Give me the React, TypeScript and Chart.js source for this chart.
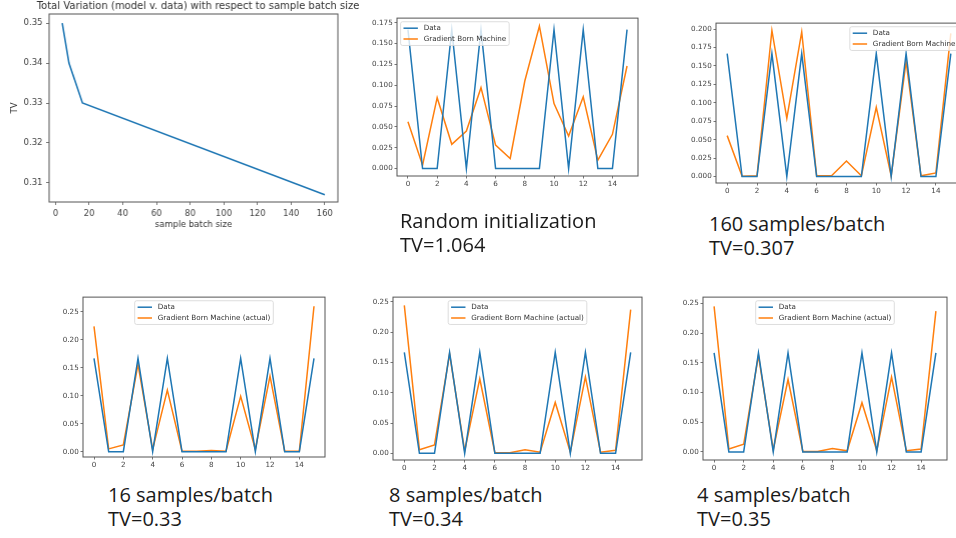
import React, { useEffect, useRef } from 'react';
import { Chart, registerables } from 'chart.js';

Chart.register(...registerables);

// ---------- data ----------
const batchSizes = [4, 8, 16, 160];
const tvByBatch = [0.35, 0.34, 0.33, 0.307];
const batchXTicks = [0, 20, 40, 60, 80, 100, 120, 140, 160];
const tvYTicks = [0.31, 0.32, 0.33, 0.34, 0.35];

const states = [0, 1, 2, 3, 4, 5, 6, 7, 8, 9, 10, 11, 12, 13, 14, 15];
const stateTicks = [0, 2, 4, 6, 8, 10, 12, 14];
const dataDist = [0.1667, 0, 0, 0.1667, 0, 0.1667, 0, 0, 0, 0, 0.1667, 0, 0.1667, 0, 0, 0.1667];
const gbmRandom = [0.056, 0.004, 0.085, 0.029, 0.045, 0.097, 0.028, 0.012, 0.105, 0.171, 0.078, 0.039, 0.086, 0.01, 0.041, 0.123];
const gbm160 = [0.0555, 0.0005, 0.001, 0.198, 0.079, 0.196, 0.001, 0.001, 0.021, 0.001, 0.094, 0.001, 0.156, 0.001, 0.005, 0.194];
const gbm16 = [0.224, 0.005, 0.012, 0.156, 0.004, 0.11, 0.001, 0.001, 0.002, 0.001, 0.099, 0.004, 0.135, 0.001, 0.001, 0.26];
const gbm8 = [0.244, 0.006, 0.014, 0.164, 0.004, 0.123, 0.001, 0.001, 0.006, 0.002, 0.084, 0.002, 0.126, 0.002, 0.005, 0.237];
const gbm4 = [0.245, 0.005, 0.013, 0.162, 0.004, 0.122, 0.001, 0.001, 0.006, 0.002, 0.083, 0.002, 0.126, 0.002, 0.005, 0.237];
const yTicksRandom = [0, 0.025, 0.05, 0.075, 0.1, 0.125, 0.15, 0.175];
const yTicks160 = [0, 0.025, 0.05, 0.075, 0.1, 0.125, 0.15, 0.175, 0.2];
const yTicksBatch = [0, 0.05, 0.1, 0.15, 0.2, 0.25];

const BLUE = '#1f77b4';
const ORANGE = '#ff7f0e';
const FONT = '"DejaVu Sans", sans-serif';
const AXIS_COLOR = '#444';

const mplPlugin = {
  id: 'mpl',
  afterDatasetsDraw(chart: any, _args: any, opts: any) {
    const { ctx, chartArea: ca } = chart;
    ctx.save();
    ctx.strokeStyle = '#555';
    ctx.lineWidth = 1;
    ctx.strokeRect(ca.left, ca.top, ca.right - ca.left, ca.bottom - ca.top);
    if (opts.legend) {
      const f = opts.fontSize;
      ctx.font = `${f}px ${FONT}`;
      const items = chart.data.datasets.map((d: any) => ({ label: d.label, color: d.borderColor }));
      const textW = Math.max(...items.map((i: any) => ctx.measureText(i.label).width));
      const pad = 0.4 * f, handle = 2 * f, gap = 0.8 * f, rowH = f, spacing = 0.5 * f;
      const w = pad * 2 + handle + gap + textW;
      const h = pad * 2 + items.length * rowH + (items.length - 1) * spacing;
      const axPad = 0.5 * f;
      const loc = opts.legend;
      const x = loc === 'upper left' ? ca.left + axPad : loc === 'upper right' ? ca.right - axPad - w : (ca.left + ca.right) / 2 - w / 2;
      const y = ca.top + axPad;
      ctx.beginPath();
      (ctx as any).roundRect(x, y, w, h, 2);
      ctx.fillStyle = 'rgba(255,255,255,0.8)';
      ctx.fill();
      ctx.strokeStyle = '#d4d4d4';
      ctx.lineWidth = 0.8;
      ctx.stroke();
      items.forEach((it: any, i: number) => {
        const cy = y + pad + rowH / 2 + i * (rowH + spacing);
        ctx.beginPath();
        ctx.strokeStyle = it.color;
        ctx.lineWidth = opts.lineWidth || 1.2;
        ctx.moveTo(x + pad, cy);
        ctx.lineTo(x + pad + handle, cy);
        ctx.stroke();
        ctx.fillStyle = '#333';
        ctx.textBaseline = 'middle';
        ctx.textAlign = 'left';
        ctx.fillText(it.label, x + pad + handle + gap, cy);
      });
    }
    ctx.restore();
  },
};

type Props = {
  plot: { l: number; t: number; r: number; b: number };
  m: { left: number; top: number; right: number; bottom: number };
  xs: number[];
  series: { label: string; data: number[]; color: string }[];
  xMin: number; xMax: number; yMin: number; yMax: number;
  xTicks: number[]; yTicks: number[]; yDec: number;
  tickFont: number; lineWidth: number; tickLen: number; tickPad: number;
  legend?: string; legendFont?: number;
  title?: string; titleFont?: number;
  xTitle?: string; yTitle?: string; axisTitleFont?: number;
};

function MplChart(p: Props) {
  const ref = useRef<HTMLCanvasElement>(null);
  const left = p.plot.l - p.m.left;
  const top = p.plot.t - p.m.top;
  const width = p.plot.r - p.plot.l + p.m.left + p.m.right;
  const height = p.plot.b - p.plot.t + p.m.top + p.m.bottom;
  useEffect(() => {
    const titleFont = p.titleFont || 10;
    const titlePadTop = 1.2, titlePadBottom = 1.2;
    const titleH = p.title ? titleFont * 1.2 + titlePadTop + titlePadBottom : 0;
    const atf = p.axisTitleFont || 8.5;
    const chart = new Chart(ref.current!, {
      type: 'line',
      data: {
        datasets: p.series.map((s) => ({
          label: s.label,
          data: p.xs.map((x, i) => ({ x, y: s.data[i] })),
          borderColor: s.color,
          backgroundColor: s.color,
          borderWidth: p.lineWidth,
          pointRadius: 0,
          tension: 0,
          fill: false,
        })),
      },
      options: {
        animation: false,
        responsive: false,
        maintainAspectRatio: false,
        devicePixelRatio: 1,
        events: [],
        layout: { padding: { left: 0, right: 0, bottom: 0, top: p.m.top - titleH } },
        plugins: {
          legend: { display: false },
          tooltip: { enabled: false },
          title: {
            display: !!p.title,
            text: p.title || '',
            color: '#333',
            font: { family: FONT, size: titleFont, weight: 'normal' },
            padding: { top: titlePadTop, bottom: titlePadBottom },
          },
          mpl: { legend: p.legend, fontSize: p.legendFont || 7.2, lineWidth: p.lineWidth },
        } as any,
        scales: {
          x: {
            type: 'linear',
            position: 'bottom',
            min: p.xMin,
            max: p.xMax,
            afterBuildTicks: (s: any) => { s.ticks = p.xTicks.map((v) => ({ value: v })); },
            afterFit: (s: any) => { s.height = p.m.bottom; },
            ticks: {
              autoSkip: false,
              maxRotation: 0,
              minRotation: 0,
              padding: p.tickPad,
              color: AXIS_COLOR,
              font: { family: FONT, size: p.tickFont },
              callback: (v: any) => String(v),
            },
            grid: { display: true, drawOnChartArea: false, drawTicks: true, tickLength: p.tickLen, color: '#555', lineWidth: 0.8 },
            border: { display: false },
            title: {
              display: !!p.xTitle,
              text: p.xTitle || '',
              color: '#333',
              font: { family: FONT, size: atf },
              padding: { top: 0, bottom: 6 },
            },
          },
          y: {
            type: 'linear',
            position: 'left',
            min: p.yMin,
            max: p.yMax,
            afterBuildTicks: (s: any) => { s.ticks = p.yTicks.map((v) => ({ value: v })); },
            afterFit: (s: any) => { s.width = p.m.left; },
            ticks: {
              autoSkip: false,
              padding: p.tickPad,
              color: AXIS_COLOR,
              font: { family: FONT, size: p.tickFont },
              callback: (v: any) => Number(v).toFixed(p.yDec),
            },
            grid: { display: true, drawOnChartArea: false, drawTicks: true, tickLength: p.tickLen, color: '#555', lineWidth: 0.8 },
            border: { display: false },
            title: {
              display: !!p.yTitle,
              text: p.yTitle || '',
              color: '#333',
              font: { family: FONT, size: atf },
              padding: { top: 9.4, bottom: 0 },
            },
          },
          yR: {
            type: 'linear',
            position: 'right',
            display: true,
            ticks: { display: false },
            grid: { display: false, drawTicks: false },
            border: { display: false },
            afterFit: (s: any) => { s.width = p.m.right; },
          },
        } as any,
      },
      plugins: [mplPlugin as any],
    });
    return () => chart.destroy();
  }, []);
  return (
    <canvas
      ref={ref}
      width={width}
      height={height}
      style={{ position: 'absolute', left, top, width, height }}
    />
  );
}

const captionStyle: React.CSSProperties = {
  position: 'absolute',
  fontFamily: '"Open Sans", sans-serif',
  fontSize: 20,
  lineHeight: '24px',
  color: '#1a1a1a',
  whiteSpace: 'nowrap',
};

function Caption({ left, top, lines }: { left: number; top: number; lines: string[] }) {
  return (
    <div style={{ ...captionStyle, left, top }}>
      {lines.map((l, i) => (
        <div key={i}>{l}</div>
      ))}
    </div>
  );
}

const smallM = { left: 36, top: 6, right: 6, bottom: 18 };

export default function App() {
  const small = { tickFont: 7.2, lineWidth: 1.5, tickLen: 2.5, tickPad: 1.8, xs: states, xMin: -0.75, xMax: 15.75, xTicks: stateTicks };
  return (
    <div style={{ position: 'fixed', left: 0, top: 0, width: 956, height: 538, overflow: 'hidden', background: '#fff' }}>
      <MplChart
        plot={{ l: 49, t: 14, r: 337.5, b: 202 }}
        m={{ left: 49, top: 14, right: 58, bottom: 34 }}
        xs={batchSizes}
        series={[{ label: 'TV', data: tvByBatch, color: BLUE }]}
        xMin={-3.8} xMax={167.8} yMin={0.3052} yMax={0.3523}
        xTicks={batchXTicks} yTicks={tvYTicks} yDec={2}
        tickFont={8.5} lineWidth={1.6} tickLen={3} tickPad={3.5}
        title="Total Variation (model v. data) with respect to sample batch size" titleFont={10}
        xTitle="sample batch size" yTitle="TV" axisTitleFont={8.5}
      />
      <MplChart
        {...small}
        plot={{ l: 397, t: 18, r: 638, b: 176 }}
        m={smallM}
        series={[{ label: 'Data', data: dataDist, color: BLUE }, { label: 'Gradient Born Machine', data: gbmRandom, color: ORANGE }]}
        yMin={-0.009} yMax={0.1805} yTicks={yTicksRandom} yDec={3}
        legend="upper left"
      />
      <MplChart
        {...small}
        plot={{ l: 716, t: 23, r: 962, b: 183 }}
        m={smallM}
        series={[{ label: 'Data', data: dataDist, color: BLUE }, { label: 'Gradient Born Machine', data: gbm160, color: ORANGE }]}
        yMin={-0.0087} yMax={0.208} yTicks={yTicks160} yDec={3}
        legend="upper right"
      />
      <MplChart
        {...small}
        plot={{ l: 83, t: 297, r: 325, b: 457 }}
        m={smallM}
        series={[{ label: 'Data', data: dataDist, color: BLUE }, { label: 'Gradient Born Machine (actual)', data: gbm16, color: ORANGE }]}
        yMin={-0.0095} yMax={0.2763} yTicks={yTicksBatch} yDec={2}
        legend="upper center"
      />
      <MplChart
        {...small}
        plot={{ l: 393, t: 297, r: 642, b: 460 }}
        m={smallM}
        series={[{ label: 'Data', data: dataDist, color: BLUE }, { label: 'Gradient Born Machine (actual)', data: gbm8, color: ORANGE }]}
        yMin={-0.011} yMax={0.2577} yTicks={yTicksBatch} yDec={2}
        legend="upper center"
      />
      <MplChart
        {...small}
        plot={{ l: 703, t: 297, r: 947, b: 460 }}
        m={smallM}
        series={[{ label: 'Data', data: dataDist, color: BLUE }, { label: 'Gradient Born Machine (actual)', data: gbm4, color: ORANGE }]}
        yMin={-0.0135} yMax={0.2606} yTicks={yTicksBatch} yDec={2}
        legend="upper center"
      />
      <Caption left={400} top={209} lines={['Random initialization', 'TV=1.064']} />
      <Caption left={709} top={212} lines={['160 samples/batch', 'TV=0.307']} />
      <Caption left={108} top={483} lines={['16 samples/batch', 'TV=0.33']} />
      <Caption left={389} top={483} lines={['8 samples/batch', 'TV=0.34']} />
      <Caption left={697} top={483} lines={['4 samples/batch', 'TV=0.35']} />
    </div>
  );
}
